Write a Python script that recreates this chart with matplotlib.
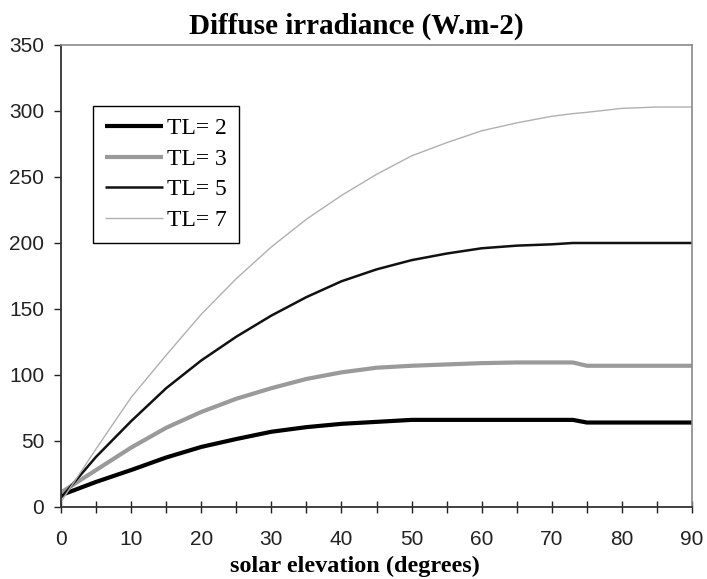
import matplotlib
matplotlib.use("Agg")
import matplotlib.pyplot as plt
from matplotlib.ticker import MultipleLocator

# solar elevation (degrees)
elevation = [0, 5, 10, 15, 20, 25, 30, 35, 40, 45, 50, 55, 60, 65, 70, 73, 75, 80, 85, 90]

# diffuse irradiance (W.m-2) for each Linke turbidity
tl2 = [9, 19, 28, 37.5, 45.5, 51.5, 57, 60.5, 63, 64.5, 66, 66, 66, 66, 66, 66, 64, 64, 64, 64]
tl3 = [11, 28, 45, 60, 72, 82, 90, 97, 102, 105.5, 107, 108, 109, 109.5, 109.5, 109.5, 107, 107, 107, 107]
tl5 = [7, 38, 65, 90, 111, 129, 145, 159, 171, 180, 187, 192, 196, 198, 199, 200, 200, 200, 200, 200]
tl7 = [4, 44, 83, 115, 146, 173, 197, 218, 236, 252, 266, 276, 285, 291, 296, 298, 299, 302, 303, 303]

labels = ["TL= 2", "TL= 3", "TL= 5", "TL= 7"]

plt.rcParams['font.family'] = ['Liberation Sans', 'DejaVu Sans']

fig = plt.figure(figsize=(7.07, 5.79), dpi=100)
ax = fig.add_axes([61 / 707, 72 / 579, 631 / 707, 462 / 579])

ax.plot(elevation, tl2, color='black', lw=3.0, label=labels[0], solid_capstyle='butt')
ax.plot(elevation, tl3, color='#9a9a9a', lw=3.0, label=labels[1], solid_capstyle='butt')
ax.plot(elevation, tl5, color='#111111', lw=1.8, label=labels[2], solid_capstyle='butt')
ax.plot(elevation, tl7, color='#b0b0b0', lw=1.0, label=labels[3], solid_capstyle='butt')

ax.set_xlim(0, 90)
ax.set_ylim(0, 350)
ax.xaxis.set_major_locator(MultipleLocator(10))
ax.xaxis.set_minor_locator(MultipleLocator(5))
ax.yaxis.set_major_locator(MultipleLocator(50))

ax.tick_params(axis='x', which='both', direction='inout', length=9, width=1, colors='#222222',
               labelsize=15, pad=12, top=False)
ax.tick_params(axis='y', which='both', direction='out', length=5, width=1, colors='#222222',
               labelsize=15, pad=7, right=False)

for side in ['left', 'bottom']:
    ax.spines[side].set_color('#333333')
    ax.spines[side].set_linewidth(1.3)
for side in ['top', 'right']:
    ax.spines[side].set_color('#8a8a8a')
    ax.spines[side].set_linewidth(1.2)

leg = ax.legend(loc='upper left', bbox_to_anchor=(93 / 707, 1 - 106 / 579),
                bbox_transform=fig.transFigure, borderaxespad=0, frameon=True, fancybox=False,
                edgecolor='black', framealpha=1, handlelength=2.45, handletextpad=0.2,
                labelspacing=0.38, borderpad=0.5, prop={'family': 'Liberation Serif', 'size': 17})
leg.get_frame().set_linewidth(1.0)

fig.text(356 / 707, 1 - 26 / 579, "Diffuse irradiance (W.m-2)", ha='center', va='center',
         family='Liberation Serif', weight='bold', fontsize=21)
fig.text(355 / 707, 1 - 566 / 579, "solar elevation (degrees)", ha='center', va='center',
         family='Liberation Serif', weight='bold', fontsize=17.5)

fig.savefig('out.png', dpi=100)
